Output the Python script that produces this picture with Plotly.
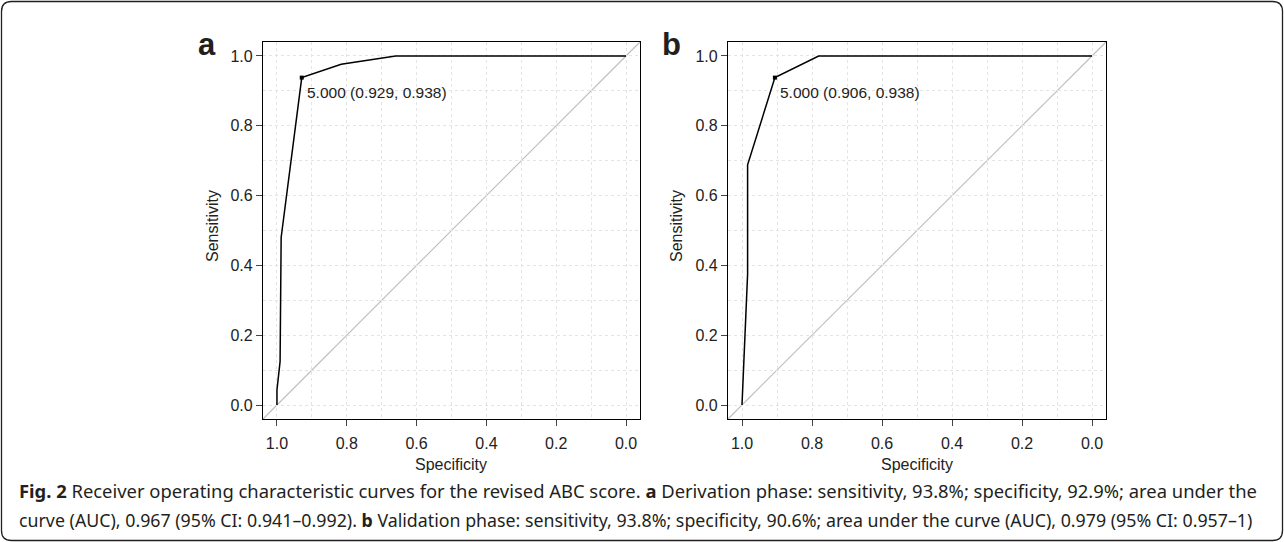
import plotly.graph_objects as go

W, H = 1284, 542

# ---- data ----
spec_a = [1.0, 1.0, 0.991, 0.988, 0.929, 0.816, 0.66, 0.0]
sens_a = [0.0, 0.043, 0.125, 0.48, 0.938, 0.976, 1.0, 1.0]
cut_a = {"threshold": 5.000, "spec": 0.929, "sens": 0.938}

spec_b = [1.0, 0.984, 0.984, 0.906, 0.781, 0.0]
sens_b = [0.0, 0.375, 0.688, 0.938, 1.0, 1.0]
cut_b = {"threshold": 5.000, "spec": 0.906, "sens": 0.938}

tick_vals = [0.0, 0.2, 0.4, 0.6, 0.8, 1.0]
tick_text = ["0.0", "0.2", "0.4", "0.6", "0.8", "1.0"]

caption_line1 = ("<b>Fig. 2</b> Receiver operating characteristic curves for the revised ABC score. "
                 "<b>a</b> Derivation phase: sensitivity, 93.8%; specificity, 92.9%; area under the")
caption_line2 = ("curve (AUC), 0.967 (95% CI: 0.941–0.992). <b>b</b> Validation phase: sensitivity, "
                 "93.8%; specificity, 90.6%; area under the curve (AUC), 0.979 (95% CI: 0.957–1)")

FONT = "Liberation Sans, Arial, Helvetica, sans-serif"
CAPFONT = "Noto Sans, sans-serif"


def px_x(p):
    return p / W


def px_y(p):
    return 1 - p / H


fig = go.Figure()

panels = [
    ("x", "y", spec_a, sens_a, cut_a, (263, 640)),
    ("x2", "y2", spec_b, sens_b, cut_b, (728, 1106)),
]

for xa, ya, sp, se, cut, _ in panels:
    # diagonal reference line corner to corner
    fig.add_shape(type="line", xref=f"{xa} domain", yref=f"{ya} domain",
                  x0=0, y0=0, x1=1, y1=1, line=dict(color="#bdbdbd", width=1.1), layer="below")
    fig.add_trace(go.Scatter(x=sp, y=se, xaxis=xa, yaxis=ya, mode="lines",
                             line=dict(color="black", width=1.5), hoverinfo="skip",
                             showlegend=False))
    fig.add_trace(go.Scatter(x=[cut["spec"]], y=[cut["sens"]], xaxis=xa, yaxis=ya,
                             mode="markers", marker=dict(color="black", size=4, symbol="square"),
                             showlegend=False, hoverinfo="skip"))
    fig.add_annotation(x=cut["spec"], y=cut["sens"], xref=xa, yref=ya,
                       text=f"{cut['threshold']:.3f} ({cut['spec']:.3f}, {cut['sens']:.3f})",
                       showarrow=False, xanchor="left", yanchor="top", xshift=3, yshift=-4,
                       font=dict(family=FONT, size=15.5, color="#222"))

axis_common = dict(
    tickvals=tick_vals, ticktext=tick_text, ticks="outside", ticklen=6,
    tickcolor="#444", tickwidth=1, showline=True, linecolor="black", linewidth=1.2,
    mirror=True, showgrid=True, gridcolor="#e4e4e4", griddash="dot", gridwidth=1,
    zeroline=False, tickfont=dict(family=FONT, size=16, color="#222"),
    minor=dict(dtick=0.1, tick0=0, showgrid=True, gridcolor="#e4e4e4", griddash="dot", ticks=""),
)

ydom = [px_y(419), px_y(42)]
for i, (xa, ya, _, _, _, (x0, x1)) in enumerate(panels):
    xn = "xaxis" if i == 0 else "xaxis2"
    yn = "yaxis" if i == 0 else "yaxis2"
    xcfg = dict(axis_common)
    xcfg.update(range=[1.04, -0.04], domain=[px_x(x0), px_x(x1)], anchor=ya,
                ticklabelstandoff=4)
    ycfg = dict(axis_common)
    ycfg.update(range=[-0.04, 1.04], domain=ydom, anchor=xa)
    fig.update_layout({xn: xcfg, yn: ycfg})

# axis titles and panel letters
for (cx_title, cy_title, cx_sp, letter, lx) in [(212, 226, 451, "a", 207), (676, 226, 917, "b", 672)]:
    fig.add_annotation(x=px_x(cx_title), y=px_y(cy_title), xref="paper", yref="paper",
                       text="Sensitivity", textangle=-90, showarrow=False,
                       xanchor="center", yanchor="middle",
                       font=dict(family=FONT, size=16, color="#222"))
    fig.add_annotation(x=px_x(cx_sp), y=px_y(464), xref="paper", yref="paper",
                       text="Specificity", showarrow=False,
                       xanchor="center", yanchor="middle",
                       font=dict(family=FONT, size=16, color="#222"))
    fig.add_annotation(x=px_x(lx), y=px_y(44), xref="paper", yref="paper",
                       text=f"<b>{letter}</b>", showarrow=False,
                       xanchor="center", yanchor="middle",
                       font=dict(family=FONT, size=31, color="#231f20"))

# caption
for txt, yc, fs in [(caption_line1, 490, 18.4), (caption_line2, 520, 17.8)]:
    fig.add_annotation(x=px_x(17), y=px_y(yc), xref="paper", yref="paper",
                       text=txt, showarrow=False, xanchor="left", yanchor="middle",
                       font=dict(family=CAPFONT, size=fs, color="#231f20"))

# rounded figure border
r = 10
x0p, x1p, y0p, y1p = 1.5, W - 1.5, 1.5, H - 1.5


def P(x, y):
    return f"{x / W:.6f},{1 - y / H:.6f}"


path = (f"M {P(x0p + r, y0p)} L {P(x1p - r, y0p)} Q {P(x1p, y0p)} {P(x1p, y0p + r)} "
        f"L {P(x1p, y1p - r)} Q {P(x1p, y1p)} {P(x1p - r, y1p)} "
        f"L {P(x0p + r, y1p)} Q {P(x0p, y1p)} {P(x0p, y1p - r)} "
        f"L {P(x0p, y0p + r)} Q {P(x0p, y0p)} {P(x0p + r, y0p)} Z")
fig.add_shape(type="path", xref="paper", yref="paper", path=path,
              line=dict(color="#231f20", width=1.3), layer="above")

fig.update_layout(width=W, height=H, margin=dict(l=0, r=0, t=0, b=0),
                  paper_bgcolor="white", plot_bgcolor="white", showlegend=False)

fig.write_html("out.html", config={"displayModeBar": False},
               post_script="document.body.style.margin='0px';document.body.style.overflow='hidden';")
